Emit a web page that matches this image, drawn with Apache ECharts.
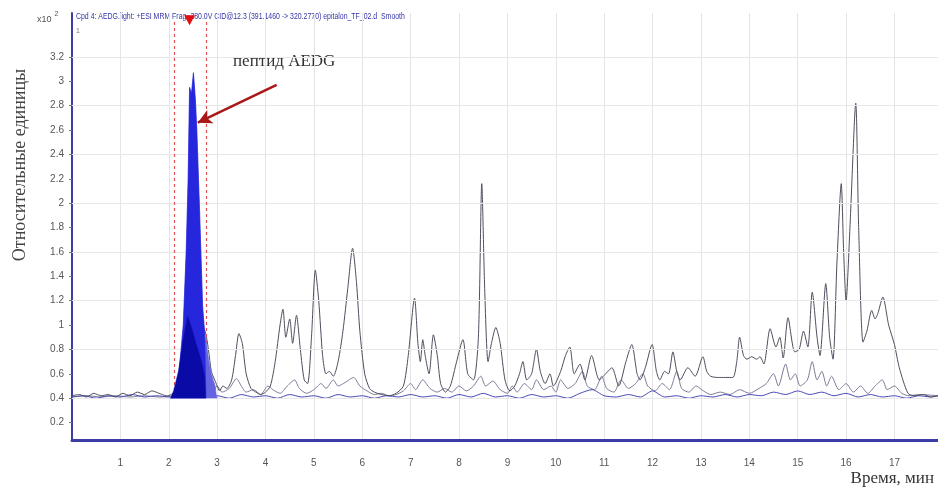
<!DOCTYPE html>
<html>
<head>
<meta charset="utf-8">
<script src="https://cdn.jsdelivr.net/npm/echarts@6/dist/echarts.min.js"></script>
<style>
  html, body { margin: 0; padding: 0; background: #ffffff; }
  #chart { width: 938px; height: 492px; }
</style>
</head>
<body>
<div id="chart"></div>
<script>
// Chromatogram overlay: time (min) vs relative units (x10^2)

const yTickValues = [0.2, 0.4, 0.6, 0.8, 1, 1.2, 1.4, 1.6, 1.8, 2, 2.2, 2.4, 2.6, 2.8, 3, 3.2];
const yGridValues = [0.4, 0.8, 1.2, 1.6, 2, 2.4, 2.8, 3.2];

// AEDG peak (filled), three overlapping transitions
const peakOuter = [[2.04,0.4],[2.1,0.44],[2.2,0.55],[2.3,1.0],[2.36,1.6],[2.4,2.2],[2.43,2.95],[2.47,2.9],[2.51,3.07],[2.55,2.85],[2.58,2.6],[2.64,1.9],[2.7,1.15],[2.74,0.95],[2.78,0.85],[2.83,0.7],[2.88,0.6],[2.92,0.55],[2.96,0.5],[2.98,0.43],[3.0,0.4]];
const peakMain = [[2.04,0.4],[2.1,0.44],[2.2,0.55],[2.3,1.0],[2.36,1.6],[2.4,2.2],[2.43,2.95],[2.47,2.9],[2.51,3.07],[2.55,2.85],[2.58,2.6],[2.64,1.9],[2.7,1.15],[2.74,0.95],[2.76,0.6],[2.77,0.4]];
const peakInner = [[2.04,0.4],[2.1,0.46],[2.2,0.62],[2.3,0.88],[2.39,1.07],[2.47,0.98],[2.56,0.85],[2.64,0.75],[2.7,0.66],[2.74,0.58],[2.76,0.4]];

// Main background transition
const trace1 = [[0,0.42],[0.15,0.43],[0.3,0.41],[0.45,0.44],[0.6,0.42],[0.75,0.43],[0.9,0.41],[1.05,0.44],[1.2,0.42],[1.35,0.45],[1.5,0.43],[1.65,0.46],[1.8,0.44],[1.95,0.42],[2.05,0.43],
  [2.2,0.5],[2.4,1.0],[2.6,1.05],[2.75,0.95],[2.82,0.8],[2.88,0.62],[2.95,0.55],[3.0,0.5],[3.05,0.46],[3.12,0.5],[3.2,0.48],
  [3.3,0.55],[3.38,0.75],[3.45,0.93],[3.52,0.85],[3.6,0.6],[3.7,0.48],[3.8,0.45],[3.9,0.43],[4.0,0.45],[4.1,0.5],
  [4.2,0.7],[4.3,1.0],[4.36,1.13],[4.42,0.9],[4.5,1.05],[4.56,0.85],[4.64,1.08],[4.72,0.8],[4.8,0.55],[4.87,0.52],
  [4.95,0.9],[5.03,1.45],[5.1,1.2],[5.18,0.75],[5.25,0.6],[5.32,0.62],[5.4,0.58],[5.5,0.7],
  [5.6,0.95],[5.7,1.3],[5.8,1.63],[5.88,1.35],[5.95,0.95],[6.05,0.6],[6.15,0.48],[6.25,0.45],[6.4,0.43],[6.55,0.42],[6.7,0.44],[6.85,0.5],
  [6.95,0.75],[7.08,1.22],[7.15,0.85],[7.2,0.7],[7.25,0.88],[7.3,0.75],[7.38,0.6],[7.47,0.92],[7.55,0.75],[7.62,0.52],[7.72,0.45],[7.82,0.5],
  [7.95,0.7],[8.08,0.88],[8.18,0.6],[8.3,0.55],[8.4,0.9],[8.47,2.16],[8.53,1.3],[8.6,0.7],[8.67,0.85],[8.76,0.98],[8.85,0.85],[8.95,0.55],[9.05,0.46],[9.15,0.5],
  [9.25,0.6],[9.32,0.7],[9.4,0.55],[9.5,0.6],[9.6,0.8],[9.68,0.62],[9.78,0.52],[9.88,0.6],[9.95,0.5],
  [10.1,0.62],[10.2,0.75],[10.29,0.82],[10.38,0.6],[10.5,0.68],[10.6,0.55],[10.74,0.75],[10.9,0.55],[11.03,0.6],[11.16,0.65],[11.3,0.5],
  [11.45,0.7],[11.57,0.84],[11.68,0.6],[11.74,0.55],[11.85,0.65],[11.99,0.84],[12.08,0.62],[12.15,0.55],[12.25,0.62],[12.33,0.6],[12.42,0.78],[12.5,0.62],[12.57,0.55],[12.73,0.65],[12.88,0.58],
  [13.04,0.74],[13.12,0.62],[13.2,0.58],[13.35,0.57],[13.5,0.57],[13.66,0.57],[13.74,0.7],[13.8,0.9],[13.88,0.75],[13.95,0.72],[14.05,0.74],[14.15,0.72],[14.22,0.74],
  [14.3,0.68],[14.43,0.97],[14.55,0.82],[14.63,0.9],[14.7,0.73],[14.8,1.06],[14.94,0.78],[15.03,0.8],[15.12,0.95],[15.21,0.82],[15.3,1.27],[15.4,0.9],[15.46,0.75],
  [15.58,1.34],[15.66,0.9],[15.73,0.72],[15.81,1.5],[15.9,2.16],[15.95,1.6],[16.0,1.2],[16.08,1.8],[16.2,2.82],[16.26,1.8],[16.35,0.86],[16.43,0.95],
  [16.53,1.12],[16.6,1.05],[16.66,1.1],[16.76,1.23],[16.88,1.0],[17.0,0.84],[17.1,0.65],[17.28,0.44],[17.42,0.42],[17.6,0.43],[17.75,0.41],[17.9,0.42]];

// Secondary transition
const trace2 = [[0,0.41],[0.3,0.42],[0.6,0.41],[0.9,0.42],[1.2,0.41],[1.5,0.42],[1.8,0.41],[2.1,0.42],[2.5,0.45],[2.9,0.45],
  [3.0,0.5],[3.1,0.45],[3.25,0.48],[3.4,0.56],[3.5,0.5],[3.6,0.45],[3.75,0.47],[3.9,0.43],[4.05,0.5],[4.15,0.47],[4.3,0.44],[4.45,0.5],[4.6,0.55],[4.7,0.48],[4.85,0.44],
  [5.0,0.47],[5.15,0.52],[5.25,0.48],[5.4,0.55],[5.5,0.5],[5.65,0.53],[5.82,0.57],[5.95,0.5],[6.1,0.46],[6.25,0.43],[6.4,0.44],[6.55,0.42],[6.7,0.43],[6.85,0.46],
  [7.0,0.52],[7.1,0.47],[7.25,0.55],[7.4,0.48],[7.55,0.45],[7.7,0.48],[7.85,0.45],[8.0,0.5],[8.15,0.46],[8.3,0.5],[8.45,0.58],[8.55,0.5],[8.7,0.54],[8.85,0.47],
  [9.0,0.44],[9.1,0.5],[9.2,0.45],[9.35,0.52],[9.5,0.47],[9.6,0.55],[9.75,0.47],[9.9,0.5],[10.0,0.45],[10.1,0.55],[10.25,0.48],[10.4,0.52],[10.55,0.62],[10.65,0.5],
  [10.8,0.47],[10.95,0.58],[11.05,0.48],[11.2,0.45],[11.35,0.55],[11.5,0.48],[11.65,0.52],[11.8,0.6],[11.9,0.5],[12.05,0.46],[12.2,0.52],[12.35,0.47],[12.5,0.62],
  [12.6,0.48],[12.75,0.45],[12.9,0.5],[13.05,0.46],[13.2,0.43],[13.4,0.45],[13.6,0.43],[13.8,0.47],[14.0,0.44],[14.2,0.48],[14.35,0.52],[14.5,0.6],[14.6,0.5],
  [14.75,0.68],[14.85,0.55],[14.95,0.6],[15.05,0.5],[15.2,0.55],[15.3,0.7],[15.4,0.55],[15.5,0.62],[15.6,0.5],[15.7,0.58],[15.85,0.47],[16.0,0.52],[16.15,0.45],
  [16.3,0.5],[16.45,0.44],[16.6,0.5],[16.75,0.55],[16.85,0.47],[17.0,0.5],[17.15,0.44],[17.3,0.42],[17.5,0.43],[17.9,0.42]];

// Baseline transition
const trace3 = [[0,0.41],[0.25,0.42],[0.5,0.4],[0.75,0.42],[1.0,0.41],[1.25,0.43],[1.5,0.41],[1.75,0.42],[2.0,0.41],[2.5,0.41],[3.0,0.42],[3.25,0.4],[3.5,0.43],
  [3.75,0.41],[4.0,0.42],[4.25,0.4],[4.5,0.43],[4.75,0.41],[5.0,0.42],[5.25,0.4],[5.5,0.43],[5.75,0.41],[6.0,0.42],[6.25,0.4],[6.5,0.42],[6.75,0.41],[7.0,0.43],
  [7.25,0.41],[7.5,0.42],[7.75,0.4],[8.0,0.43],[8.25,0.41],[8.5,0.44],[8.75,0.41],[9.0,0.42],[9.25,0.4],[9.5,0.43],[9.75,0.41],[10.0,0.42],[10.25,0.4],[10.5,0.44],
  [10.75,0.47],[11.0,0.42],[11.25,0.41],[11.5,0.43],[11.75,0.41],[12.0,0.46],[12.25,0.41],[12.5,0.42],[12.75,0.4],[13.0,0.42],[13.25,0.41],[13.5,0.43],[13.75,0.41],
  [14.0,0.43],[14.25,0.42],[14.5,0.45],[14.75,0.43],[15.0,0.46],[15.25,0.43],[15.5,0.45],[15.75,0.42],[16.0,0.44],[16.25,0.41],[16.5,0.43],[16.75,0.41],[17.0,0.42],
  [17.25,0.4],[17.5,0.42],[17.75,0.41],[17.9,0.42]];

// Annotation positions (minutes / relative units)
const windowEdges = [2.12, 2.78];
const apexMarker = [2.43, 3.5];
const arrowFrom = [4.23, 2.97];
const arrowTo = [2.6, 2.66];

const serif = "'Liberation Serif', 'Times New Roman', serif";
const sans = "'Liberation Sans', Arial, sans-serif";
const axisBlue = '#3c3ca6';

const chart = echarts.init(document.getElementById('chart'), null, { renderer: 'canvas' });

function fillSeries(name, data, color, z) {
  return {
    name, type: 'line', data, z, silent: true,
    showSymbol: false, smooth: false,
    lineStyle: { width: 0.5, color },
    areaStyle: { color, opacity: 1, origin: 0.4 }
  };
}

function traceSeries(name, data, color, z) {
  return {
    name, type: 'line', data, z, silent: true,
    showSymbol: false, smooth: 0.25,
    lineStyle: { width: 1, color }
  };
}

chart.setOption({
  animation: false,
  backgroundColor: '#ffffff',
  grid: { left: 72, right: 0, top: 13, bottom: 52 },
  xAxis: {
    type: 'value', min: 0, max: 17.9, interval: 1,
    axisLine: { show: true, onZero: false, lineStyle: { color: axisBlue, width: 3 } },
    axisTick: { show: false },
    axisLabel: {
      color: '#555', fontSize: 10, fontFamily: sans, margin: 18,
      showMaxLabel: false,
      formatter: v => (v === 0 || !Number.isInteger(v) ? '' : String(v))
    },
    splitLine: { show: true, lineStyle: { color: '#e4e4e4', width: 1 } }
  },
  yAxis: {
    type: 'value', min: 0.057, max: 3.56,
    axisLine: { show: true, onZero: false, lineStyle: { color: axisBlue, width: 2 } },
    axisTick: { show: true, length: 3, customValues: yTickValues, lineStyle: { color: '#777' } },
    axisLabel: { color: '#555', fontSize: 10, fontFamily: sans, margin: 8, customValues: yTickValues },
    splitLine: { show: false }
  },
  series: [
    {
      name: 'grid', type: 'line', data: [[0, 0.4]], z: 1, silent: true,
      showSymbol: false, lineStyle: { opacity: 0 },
      markLine: {
        silent: true, symbol: ['none', 'none'], label: { show: false },
        lineStyle: { color: '#e8e8e8', width: 1, type: 'solid' },
        data: yGridValues.map(v => ({ yAxis: v }))
      }
    },
    traceSeries('trace2', trace2, '#7c7c98', 2),
    traceSeries('trace3', trace3, '#4a4ab8', 3),
    traceSeries('trace1', trace1, '#4e4e5e', 4),
    fillSeries('peakOuter', peakOuter, '#6464e2', 5),
    fillSeries('peakMain', peakMain, '#2626dc', 6),
    fillSeries('peakInner', peakInner, '#0a0aa6', 7),
    {
      name: 'annotations', type: 'line', data: [[0, 0.4]], z: 8, silent: true,
      showSymbol: false, lineStyle: { opacity: 0 },
      markLine: {
        silent: true, label: { show: false },
        data: [
          [{ coord: [windowEdges[0], 0.41], symbol: 'none', lineStyle: { color: '#e05050', width: 1.2, type: [3, 3] } },
           { coord: [windowEdges[0], 3.5], symbol: 'none' }],
          [{ coord: [windowEdges[1], 0.41], symbol: 'none', lineStyle: { color: '#e05050', width: 1.2, type: [3, 3] } },
           { coord: [windowEdges[1], 3.5], symbol: 'none' }],
          [{ coord: arrowFrom, symbol: 'none', lineStyle: { color: '#a81818', width: 2.5, type: 'solid' } },
           { coord: arrowTo, symbol: 'arrow', symbolSize: [11, 14] }]
        ]
      },
      markPoint: {
        silent: true,
        data: [{ coord: apexMarker, symbol: 'triangle', symbolRotate: 180, symbolSize: [11, 10], itemStyle: { color: '#e01010' }, label: { show: false } }]
      }
    }
  ],
  graphic: [
    {
      type: 'text', x: 76, y: 12, scaleX: 0.77, silent: true,
      style: {
        text: 'Cpd 4: AEDG.light: +ESI MRM Frag=380.0V CID@12.3 (391.1460 -> 320.2770) epitalon_TF_02.d  Smooth',
        fill: '#3535a8', font: "9px " + sans
      }
    },
    {
      type: 'text', left: 37, top: 11, silent: true,
      style: {
        text: '{b|x10}{s|2}',
        rich: {
          b: { fill: '#555', fontSize: 9, fontFamily: sans, verticalAlign: 'bottom' },
          s: { fill: '#555', fontSize: 7, fontFamily: sans, padding: [0, 0, 6, 3] }
        }
      }
    },
    {
      type: 'text', left: 76, top: 28, silent: true,
      style: { text: '1', fill: '#777', font: "7px " + sans }
    },
    {
      type: 'text', left: 233, top: 53, silent: true,
      style: { text: 'пептид AEDG', fill: '#333', font: "17px " + serif }
    },
    {
      type: 'text', x: 11, y: 165, rotation: Math.PI / 2, silent: true,
      style: { text: 'Относительные единицы', fill: '#444', font: "18px " + serif, align: 'center', verticalAlign: 'top' }
    },
    {
      type: 'text', right: 4, top: 470, silent: true,
      style: { text: 'Время, мин', fill: '#333', font: "17px " + serif }
    }
  ]
});
</script>
</body>
</html>
